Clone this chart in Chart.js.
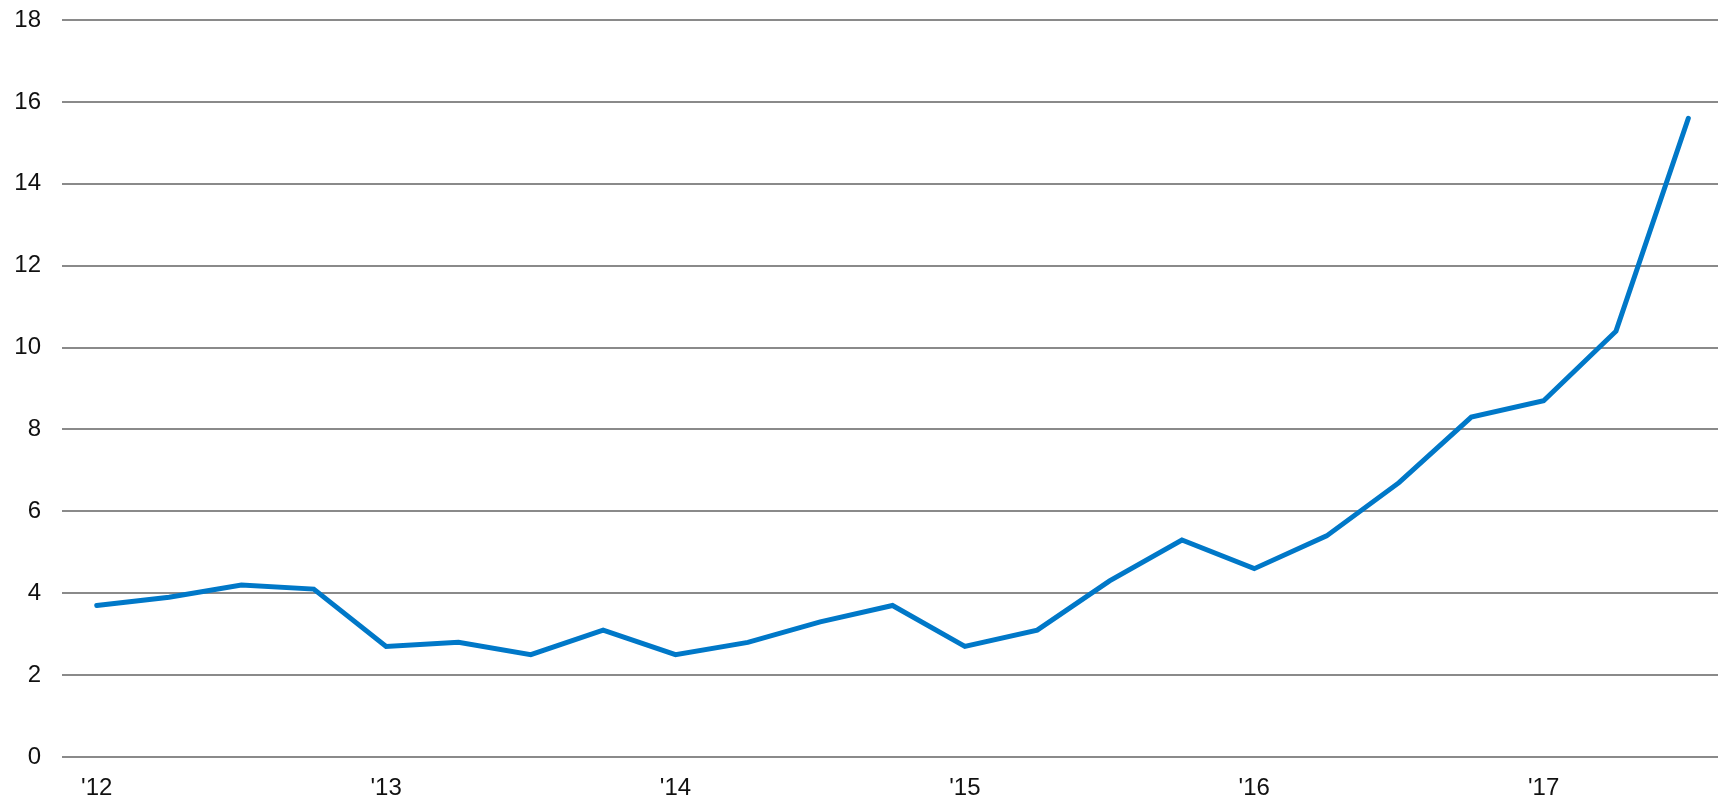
<!DOCTYPE html>
<html>
<head>
<meta charset="utf-8">
<script src="https://cdn.jsdelivr.net/npm/chart.js@4"></script>
<style>
  html, body { margin: 0; padding: 0; background: #fff; }
  #wrap { width: 1718px; height: 799px; position: relative; }
</style>
</head>
<body>
<div id="wrap"><canvas id="linechart"></canvas></div>
<script>
// quarterly points, Q1 2012 .. Q3 2017
const categories = [
    "Q1 '12", "Q2 '12", "Q3 '12", "Q4 '12",
    "Q1 '13", "Q2 '13", "Q3 '13", "Q4 '13",
    "Q1 '14", "Q2 '14", "Q3 '14", "Q4 '14",
    "Q1 '15", "Q2 '15", "Q3 '15", "Q4 '15",
    "Q1 '16", "Q2 '16", "Q3 '16", "Q4 '16",
    "Q1 '17", "Q2 '17", "Q3 '17"
];
const values = [
    3.7, 3.9, 4.2, 4.1,
    2.7, 2.8, 2.5, 3.1,
    2.5, 2.8, 3.3, 3.7,
    2.7, 3.1, 4.3, 5.3,
    4.6, 5.4, 6.7, 8.3,
    8.7, 10.4, 15.6
];
const xTickLabels = ["'12", "'13", "'14", "'15", "'16", "'17"];
const yTicks = [0, 2, 4, 6, 8, 10, 12, 14, 16, 18];

const FONT = { family: "Arial", size: 24 };

const CHART = document.getElementById("linechart");

let linechart = new Chart(CHART, {
    type: 'line',
    data: {
        labels: categories,
        datasets: [{
            data: values.map((v, i) => ({ x: i, y: v })),
            borderColor: "#0078c8",
            borderWidth: 5,
            borderCapStyle: 'round',
            borderJoinStyle: 'miter',
            pointRadius: 0,
            fill: false,
            tension: 0
        }]
    },
    options: {
        responsive: true,
        maintainAspectRatio: false,
        animation: false,
        layout: { padding: { top: 20, right: 0, left: 0, bottom: 0 } },
        plugins: { legend: { display: false }, tooltip: { enabled: false } },
        scales: {
            x: {
                type: 'linear',
                min: -0.48,
                max: 22.41,
                grid: { display: false },
                border: { display: false },
                afterBuildTicks: (scale) => {
                    scale.ticks = xTickLabels.map((_, k) => ({ value: k * 4 }));
                },
                afterFit: (scale) => {
                    scale.height = 42;
                    scale.paddingLeft = 0;
                    scale.paddingRight = 0;
                },
                ticks: {
                    autoSkip: false,
                    maxRotation: 0,
                    padding: 9,
                    color: "#111",
                    font: FONT,
                    callback: (v) => xTickLabels[v / 4]
                }
            },
            y: {
                min: 0,
                max: 18,
                afterBuildTicks: (scale) => {
                    scale.ticks = yTicks.map(v => ({ value: v }));
                },
                afterFit: (scale) => {
                    scale.width = 62;
                    scale.paddingTop = 0;
                    scale.paddingBottom = 0;
                },
                grid: { color: "#8a8a8a", lineWidth: 2, drawTicks: false },
                border: { display: false },
                ticks: {
                    color: "#111",
                    font: FONT,
                    padding: 21
                }
            }
        }
    }
});
</script>
</body>
</html>
